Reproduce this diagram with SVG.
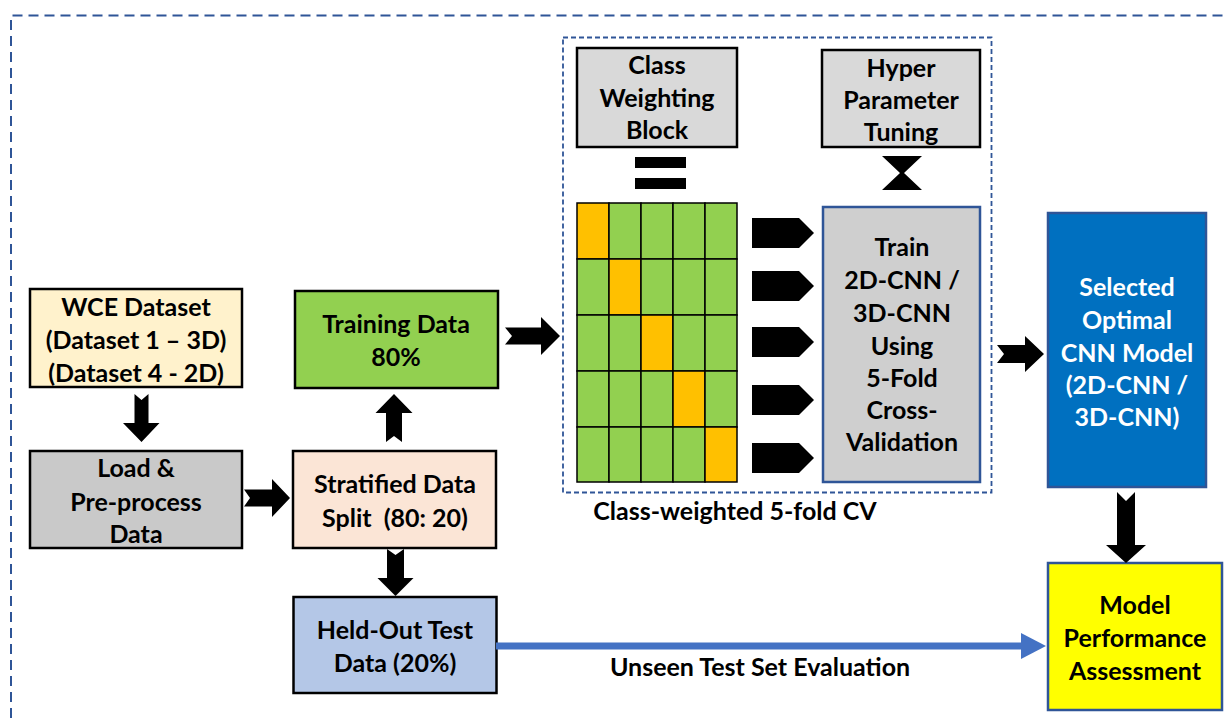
<svg xmlns="http://www.w3.org/2000/svg" width="1228" height="718" viewBox="0 0 1228 718">
<style>
  text { font-family: Lato, "Liberation Sans", sans-serif; font-weight: 700; font-size: 25px; fill: #000; text-anchor: middle; }
  .box { stroke: #000; stroke-width: 2.5; }
  .bbox { stroke: #2F5597; stroke-width: 2.5; }
  .blk { fill: #000; stroke: none; }
  .g { fill: #92D050; stroke: #000; stroke-width: 1.5; }
  .o { fill: #FFC000; stroke: #000; stroke-width: 1.5; }
  .w { fill: #fff; }
</style>
<rect width="1228" height="718" fill="#fff"/>
<!-- outer dashed frame -->
<path d="M11,718 L11,15.5 L1228,15.5" fill="none" stroke="#2F5597" stroke-width="2" stroke-dasharray="10,6"/>
<!-- inner dashed frame -->
<rect x="563" y="37.5" width="428.5" height="455" fill="none" stroke="#2F5597" stroke-width="1.8" stroke-dasharray="5,3"/>

<g id="wce">
  <rect class="box" x="30" y="289" width="212" height="98" fill="#FFF2CC"/>
  <text x="136" y="316">WCE Dataset</text>
  <text x="136" y="349">(Dataset 1 – 3D)</text>
  <text x="136" y="382">(Dataset 4 - 2D)</text>
</g>
<g id="load">
  <rect class="box" x="30" y="451" width="212" height="97" fill="#C9C9C9"/>
  <text x="136" y="477">Load &amp;</text>
  <text x="136" y="511">Pre-process</text>
  <text x="136" y="543">Data</text>
</g>
<g id="split">
  <rect class="box" x="293" y="451" width="203" height="97" fill="#FBE5D6"/>
  <text x="395" y="493">Stratified Data</text>
  <text x="395" y="527" xml:space="preserve">Split  (80: 20)</text>
</g>
<g id="training">
  <rect class="box" x="295" y="291" width="203" height="97" fill="#92D050"/>
  <text x="396" y="333">Training Data</text>
  <text x="396" y="366">80%</text>
</g>
<g id="heldout">
  <rect class="box" x="293.5" y="597" width="203" height="96" fill="#B4C7E7"/>
  <text x="395" y="639">Held-Out Test</text>
  <text x="395" y="672">Data (20%)</text>
</g>
<g id="classweight">
  <rect class="box" x="577" y="48" width="160" height="99" fill="#D9D9D9"/>
  <text x="657" y="74">Class</text>
  <text x="657" y="107">Weighting</text>
  <text x="657" y="139">Block</text>
</g>
<g id="hyper">
  <rect class="box" x="822" y="50" width="158" height="97" fill="#D9D9D9"/>
  <text x="901" y="77">Hyper</text>
  <text x="901" y="109">Parameter</text>
  <text x="901" y="141">Tuning</text>
</g>
<g id="grid">
  <rect class="o" x="577" y="203" width="32" height="56"/>
  <rect class="g" x="609" y="203" width="32" height="56"/>
  <rect class="g" x="641" y="203" width="32" height="56"/>
  <rect class="g" x="673" y="203" width="32" height="56"/>
  <rect class="g" x="705" y="203" width="32" height="56"/>
  <rect class="g" x="577" y="259" width="32" height="56"/>
  <rect class="o" x="609" y="259" width="32" height="56"/>
  <rect class="g" x="641" y="259" width="32" height="56"/>
  <rect class="g" x="673" y="259" width="32" height="56"/>
  <rect class="g" x="705" y="259" width="32" height="56"/>
  <rect class="g" x="577" y="315" width="32" height="56"/>
  <rect class="g" x="609" y="315" width="32" height="56"/>
  <rect class="o" x="641" y="315" width="32" height="56"/>
  <rect class="g" x="673" y="315" width="32" height="56"/>
  <rect class="g" x="705" y="315" width="32" height="56"/>
  <rect class="g" x="577" y="371" width="32" height="56"/>
  <rect class="g" x="609" y="371" width="32" height="56"/>
  <rect class="g" x="641" y="371" width="32" height="56"/>
  <rect class="o" x="673" y="371" width="32" height="56"/>
  <rect class="g" x="705" y="371" width="32" height="56"/>
  <rect class="g" x="577" y="427" width="32" height="55"/>
  <rect class="g" x="609" y="427" width="32" height="55"/>
  <rect class="g" x="641" y="427" width="32" height="55"/>
  <rect class="g" x="673" y="427" width="32" height="55"/>
  <rect class="o" x="705" y="427" width="32" height="55"/>
</g>
<g id="train">
  <rect class="bbox" x="823" y="207" width="157" height="275" fill="#CFCFCF"/>
  <text x="902" y="256">Train</text>
  <text x="902" y="289">2D-CNN /</text>
  <text x="902" y="322">3D-CNN</text>
  <text x="902" y="355">Using</text>
  <text x="902" y="387">5-Fold</text>
  <text x="902" y="419">Cross-</text>
  <text x="902" y="451">Validation</text>
</g>
<g id="selected">
  <rect class="bbox" x="1048" y="213" width="158" height="274" fill="#0070C0"/>
  <text class="w" x="1127" y="296">Selected</text>
  <text class="w" x="1127" y="329">Optimal</text>
  <text class="w" x="1127" y="362">CNN Model</text>
  <text class="w" x="1127" y="394">(2D-CNN /</text>
  <text class="w" x="1127" y="426">3D-CNN)</text>
</g>
<g id="assessment">
  <rect class="bbox" x="1048" y="563" width="174" height="147" fill="#FFFF00"/>
  <text x="1135" y="614">Model</text>
  <text x="1135" y="647">Performance</text>
  <text x="1135" y="680">Assessment</text>
</g>
<text x="735" y="520">Class-weighted 5-fold CV</text>

<g id="connectors">
  <!-- equal sign -->
  <rect class="blk" x="635" y="157" width="51" height="11"/>
  <rect class="blk" x="635" y="178" width="51" height="11"/>
  <!-- hourglass -->
  <polygon class="blk" points="882,156 922,156 904,173 922,190 882,190 900,173"/>
  <!-- pentagon arrows -->
  <polygon class="blk" points="752,218 799,218 814,233 799,248 752,248"/>
  <polygon class="blk" points="752,271 799,271 814,286 799,301 752,301"/>
  <polygon class="blk" points="752,327 799,327 814,342 799,357 752,357"/>
  <polygon class="blk" points="752,385 799,385 814,400 799,415 752,415"/>
  <polygon class="blk" points="752,443 799,443 814,458 799,473 752,473"/>
  <!-- notched block arrows -->
  <path class="blk" d="M134.5,394 L141.5,400 L148.5,394 L148.5,423 L159.5,423 L141.5,442 L123,423 L134.5,423 Z"/>
  <path class="blk" d="M244,489.5 L272,489.5 L272,479 L290,498 L272,517 L272,506.5 L244,506.5 L250,498 Z"/>
  <path class="blk" d="M386,442 L386,413 L375.5,413 L394,394 L412.5,413 L402,413 L402,442 L394,436 Z"/>
  <path class="blk" d="M505,327.5 L541,327.5 L541,317 L560,336 L541,355 L541,344.5 L505,344.5 L512,336 Z"/>
  <path class="blk" d="M387,549 L395.5,555 L404,549 L404,578 L413.5,578 L395.5,596 L377.5,578 L387,578 Z"/>
  <path class="blk" d="M997,345 L1025,345 L1025,336 L1044,354 L1025,372 L1025,363 L997,363 L1004,354 Z"/>
  <path class="blk" d="M1117,492 L1126,501 L1135,492 L1135,545 L1146,545 L1126,563 L1106,545 L1117,545 Z"/>
  <!-- blue evaluation line -->
  <line x1="496" y1="646" x2="1023" y2="646" stroke="#4472C4" stroke-width="7"/>
  <polygon points="1021,633 1046,646 1021,659" fill="#4472C4"/>
</g>
<text x="760" y="676">Unseen Test Set Evaluation</text>
</svg>
